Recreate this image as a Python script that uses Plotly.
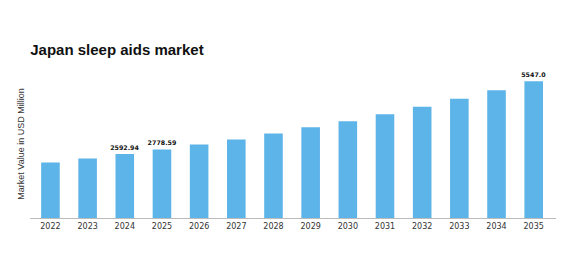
import plotly.graph_objects as go

years = ["2022", "2023", "2024", "2025", "2026", "2027", "2028",
         "2029", "2030", "2031", "2032", "2033", "2034", "2035"]
values = [2255, 2417, 2592.94, 2778.59, 2984, 3186, 3429,
          3684, 3927, 4210, 4506, 4830, 5182, 5547.0]
label_years = ["2024", "2025", "2035"]
label_texts = ["2592.94", "2778.59", "5547.0"]

texts = [label_texts[label_years.index(y)] if y in label_years else "" for y in years]

fig = go.Figure(go.Bar(
    x=years, y=values, width=0.5,
    marker=dict(color="#5DB4E8", line=dict(width=0)),
    text=texts, textposition="outside", cliponaxis=False,
    constraintext="none",
    textfont=dict(family="DejaVu Sans", size=6.3, color="#111111"),
    texttemplate="<b>%{text}</b>",
))

fig.update_layout(
    width=570, height=270,
    margin=dict(l=30, r=14, t=70, b=52),
    paper_bgcolor="white", plot_bgcolor="white",
    title=dict(text="<b>Japan sleep aids market</b>", x=0.053, xanchor="left",
               y=0.815, yanchor="middle",
               font=dict(family="Liberation Sans, Arial", size=15, color="#111111")),
    showlegend=False,
    bargap=0.5,
)
fig.update_xaxes(
    type="category", showline=True, linecolor="#BBBBBB", linewidth=1,
    ticks="", tickfont=dict(family="DejaVu Sans", size=8, color="#333333"),
    range=[-0.55, 13.6],
)
fig.update_yaxes(
    range=[0, 6000], showticklabels=False, showgrid=False, zeroline=False,
    title=dict(text="Market Value in USD Million", standoff=2,
               font=dict(family="Liberation Sans, Arial", size=9, color="#333333")),
)

fig.write_html("out.html")
